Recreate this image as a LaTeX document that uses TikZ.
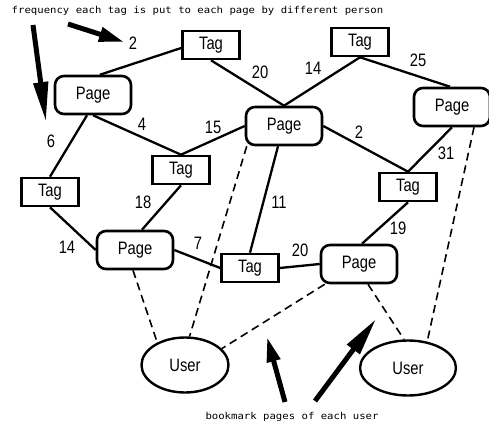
\documentclass[tikz,border=0pt]{standalone}
\usepackage{fontspec}
\newfontfamily\labelfont{Liberation Sans}[FakeStretch=0.82]
\newfontfamily\notefont{DejaVu Sans Mono}[FakeStretch=1.12]
\usetikzlibrary{shapes.geometric,arrows.meta,calc}

\tikzset{
  tagbox/.style={draw, line width=2.6pt, minimum width=57pt, minimum height=28pt,
    inner sep=0pt, font=\labelfont\fontsize{18}{18}\selectfont},
  pagebox/.style={draw, line width=2.6pt, rounded corners=9pt, minimum width=76pt,
    minimum height=38pt, inner sep=0pt, font=\labelfont\fontsize{18}{18}\selectfont},
  userbox/.style={ellipse, draw, line width=2.4pt, minimum height=55pt, inner sep=0pt,
    font=\labelfont\fontsize{18}{18}\selectfont},
  link/.style={line width=2.3pt},
  bookmark/.style={line width=1.6pt, dash pattern=on 8pt off 5pt},
  weight/.style={inner sep=0pt, font=\labelfont\fontsize{18}{18}\selectfont},
  note/.style={inner sep=0pt, font=\notefont\fontsize{9.5}{11}\selectfont},
  pointer/.style={line width=5pt},
}

\begin{document}
\begin{tikzpicture}[x=1pt,y=-1pt]
\fill[white] (0,0) rectangle (489,427);
\useasboundingbox (0,0) rectangle (489,427);

% tags and pages
\node[tagbox]  (t1)  at (211,45)  {Tag};
\node[tagbox]  (t2)  at (360,42)  {Tag};
\node[pagebox] (p1)  at (93,95)   {Page};
\node[pagebox] (pc)  at (284,126) {Page};
\node[pagebox] (pr)  at (452,107) {Page};
\node[tagbox]  (tl)  at (50,192)  {Tag};
\node[tagbox]  (tm)  at (181,170) {Tag};
\node[tagbox]  (tr)  at (408,187) {Tag};
\node[pagebox] (pbl) at (135,250) {Page};
\node[tagbox]  (tb)  at (250,268) {Tag};
\node[pagebox] (pbr) at (359,264) {Page};

% users
\node[userbox, minimum width=87pt] (u1) at (185,365) {User};
\node[userbox, minimum width=96pt] (u2) at (408,368) {User};

% tag--page links
\draw[link] ($(p1.north)+(7,0)$) -- ($(t1.west)+(0,3)$);
\draw[link] (t1.south) -- (pc.north);
\draw[link] (t2.south) -- (pc.north);
\draw[link] (t2.south) -- ($(pr.north)+(-2,0)$);
\draw[link] (p1.south) -- (tm.north);
\draw[link] ($(p1.south)+(-6,0)$) -- (tl.north);
\draw[link] (pc.west) -- (tm.north);
\draw[link] (pc.east) -- (tr.north);
\draw[link] (pr.south) -- (tr.north);
\draw[link] ($(pc.south)+(-6,0)$) -- (tb.north);
\draw[link] (tm.south) -- ($(pbl.north)+(7,0)$);
\draw[link] (tl.south) -- (pbl.west);
\draw[link] (pbl.east) -- (tb.west);
\draw[link] (tb.east) -- (pbr.west);
\draw[link] (tr.south) -- ($(pbr.north)+(3,0)$);

% bookmarks
\draw[bookmark] ($(pbl.south)+(-2,0)$) -- (u1.141);
\draw[bookmark] ($(pc.south west)+(2,0)$) -- (u1.81);
\draw[bookmark] ($(pbr.south west)+(5,0)$) -- (u1.24);
\draw[bookmark] ($(pbr.south)+(9,0)$) -- (u2.98);
\draw[bookmark] ($(pr.south)+(22,0)$) -- (u2.54);

% frequencies
\node[weight] (w1)  at (133,43)  {2};
\node[weight] (w2)  at (260,72)  {20};
\node[weight] (w3)  at (313,68)  {14};
\node[weight] (w4)  at (418,60)  {25};
\node[weight] (w5)  at (142,124) {4};
\node[weight] (w6)  at (213,127) {15};
\node[weight] (w7)  at (359,132) {2};
\node[weight] (w8)  at (51,141)  {6};
\node[weight] (w9)  at (446,153) {31};
\node[weight] (w10) at (143,202) {18};
\node[weight] (w11) at (279,202) {11};
\node[weight] (w12) at (398,228) {19};
\node[weight] (w13) at (67,247)  {14};
\node[weight] (w14) at (198,243) {7};
\node[weight] (w15) at (300,250) {20};

% notes and their pointers
\node[note] (n1) at (197.5,11) {frequency each tag is put to each page by different person};
\node[note] (n2) at (292,417) {bookmark pages of each user};

\coordinate (a1s) at (68,24);   \coordinate (a1e) at (124,42);
\coordinate (a2s) at (33,25);   \coordinate (a2e) at (46,122);
\coordinate (a3s) at (285,402); \coordinate (a3e) at (267,337);
\coordinate (a4s) at (315,401); \coordinate (a4e) at (376,319);

\draw[pointer, -{Triangle[length=25pt,width=14pt]}] (a1s) -- (a1e);
\draw[pointer, -{Triangle[length=40pt,width=14pt]}] (a2s) -- (a2e);
\draw[pointer, -{Triangle[length=25pt,width=13pt]}] (a3s) -- (a3e);
\draw[pointer, -{Triangle[length=38pt,width=15pt]}] (a4s) -- (a4e);
\end{tikzpicture}
\end{document}
